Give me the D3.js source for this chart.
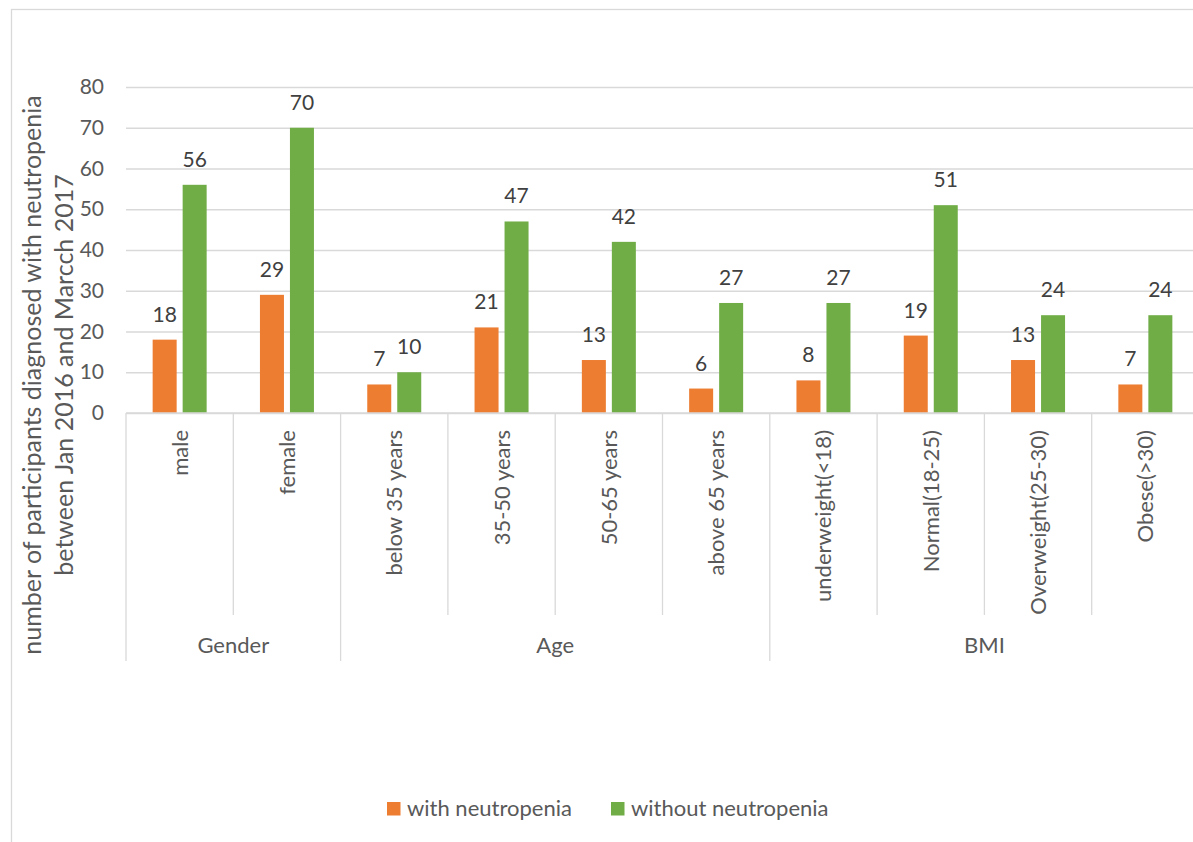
<!DOCTYPE html>
<html><head><meta charset="utf-8">
<script src="https://cdn.jsdelivr.net/npm/d3@7/dist/d3.min.js"></script>
<style>body{margin:0;background:#fff;}svg{display:block;font-family:Lato,"Open Sans",sans-serif;}</style>
</head><body><svg id="c" width="1193" height="842"></svg>
<script>
const categories = ["male","female","below 35 years","35-50 years","50-65 years","above 65 years","underweight(<18)","Normal(18-25)","Overweight(25-30)","Obese(>30)"];
const groups = ["Gender","Gender","Age","Age","Age","Age","BMI","BMI","BMI","BMI"];
const withNeutropenia = [18,29,7,21,13,6,8,19,13,7];
const withoutNeutropenia = [56,70,10,47,42,27,27,51,24,24];
const seriesNames = ["with neutropenia","without neutropenia"];
const colors = ["#ED7D31","#70AD47"];
const yTicks = [0,10,20,30,40,50,60,70,80];

const svg = d3.select("#c");
const x0 = 126, x1 = 1199, yTop = 87, yBot = 413;
const x = d3.scaleBand().domain(categories).range([x0,x1]);
const y = d3.scaleLinear().domain([0,80]).range([yBot,yTop]);

// outer border
svg.append("rect").attr("x",11.5).attr("y",9.5).attr("width",1190).attr("height",840)
  .attr("fill","none").attr("stroke","#D9D9D9").attr("stroke-width",1.3);

// gridlines + tick labels
const yAxis = d3.axisLeft(y).tickValues(yTicks).tickSize(-(x1-x0)).tickPadding(22);
const gy = svg.append("g").attr("transform",`translate(${x0},0)`).call(yAxis);
gy.select(".domain").remove();
gy.selectAll(".tick line").attr("stroke","#D9D9D9").attr("stroke-width",1.3);
gy.selectAll(".tick text").attr("fill","#595959").style("font-size","21px").attr("font-family","Lato");

// bars
const bw = 24, gap = 3;
const data = categories.map((c,i)=>({c, v:[withNeutropenia[i], withoutNeutropenia[i]]}));
data.forEach(d=>{
  const cx = x(d.c) + x.bandwidth()/2;
  d.v.forEach((v,j)=>{
    const bx = j===0 ? cx-gap-bw : cx+gap;
    svg.append("rect").attr("x",bx).attr("y",y(v)).attr("width",bw).attr("height",y(0)-y(v)).attr("fill",colors[j]);
    svg.append("text").attr("x",bx+bw/2).attr("y",y(v)-18).attr("text-anchor","middle")
      .attr("fill","#404040").style("font-size","21px").text(v);
  });
});

// x axis baseline
svg.append("line").attr("x1",x0).attr("x2",x1).attr("y1",yBot).attr("y2",yBot).attr("stroke","#D9D9D9").attr("stroke-width",1.3);

// category dividers & labels
categories.forEach((c,i)=>{
  const left = x(c);
  const isGroupStart = i===0 || groups[i]!==groups[i-1];
  svg.append("line").attr("x1",left).attr("x2",left).attr("y1",yBot).attr("y2",isGroupStart?661:615)
    .attr("stroke","#D9D9D9").attr("stroke-width",1.3);
  const cx = left + x.bandwidth()/2;
  svg.append("text").attr("transform",`translate(${cx+8},${430}) rotate(-90)`)
    .attr("text-anchor","end").attr("fill","#595959").style("font-size","22px").text(c);
});
// group labels
const groupNames = Array.from(new Set(groups));
groupNames.forEach(g=>{
  const idx = groups.map((v,i)=>v===g?i:-1).filter(i=>i>=0);
  const a = x(categories[idx[0]]), b = x(categories[idx[idx.length-1]]) + x.bandwidth();
  svg.append("text").attr("x",(a+b)/2).attr("y",653).attr("text-anchor","middle")
    .attr("fill","#595959").style("font-size","22px").text(g);
});

// y axis title
const yt = svg.append("text").attr("transform",`translate(0,375) rotate(-90)`).attr("text-anchor","middle")
  .attr("fill","#595959").style("font-size","25px");
yt.append("tspan").attr("x",0).attr("y",41).text("number of participants diagnosed with neutropenia");
yt.append("tspan").attr("x",0).attr("y",73).text("between Jan 2016 and Marcch 2017");

// legend
const legX = [387, 611];
seriesNames.forEach((s,i)=>{
  svg.append("rect").attr("x",legX[i]).attr("y",802).attr("width",13.5).attr("height",13.5).attr("fill",colors[i]);
  svg.append("text").attr("x",legX[i]+20).attr("y",816).attr("fill","#595959").style("font-size","22px").text(s);
});
</script></body></html>
